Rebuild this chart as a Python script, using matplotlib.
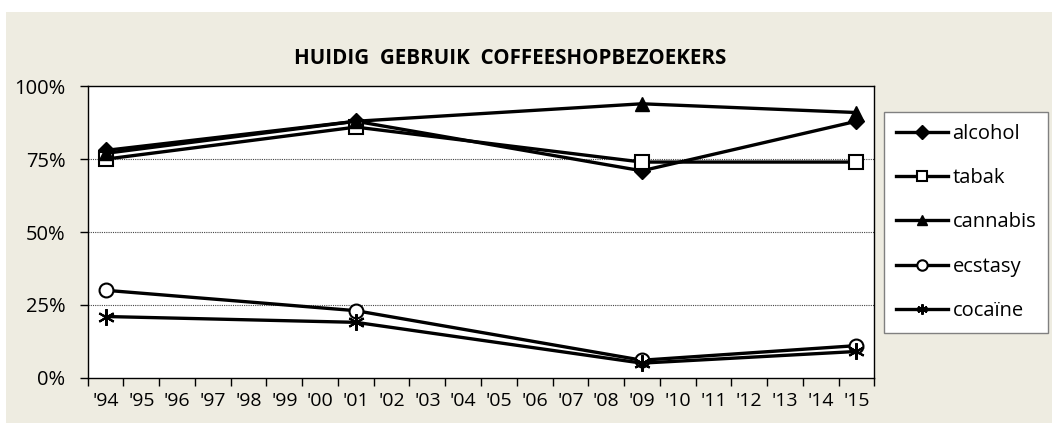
import numpy as np
import matplotlib
matplotlib.use('Agg')
import matplotlib.pyplot as plt
from matplotlib.patches import Rectangle

plt.rcParams['font.family'] = ['Open Sans', 'DejaVu Sans']

# categorie-as: '94 t/m '15
jaren = ["'%02d" % (j % 100) for j in range(1994, 2016)]
meetjaren = [1994, 2001, 2009, 2015]

alcohol = [78, 88, 71, 88]
tabak = [75, 86, 74, 74]
cannabis = [77, 88, 94, 91]
ecstasy = [30, 23, 6, 11]
cocaine = [21, 19, 5, 9]

fig = plt.figure(figsize=(10.52, 4.23), dpi=100, facecolor='white')
fig.patches.append(Rectangle((6 / 1052, 0), 1 - 6 / 1052, 1 - 12 / 423,
                             transform=fig.transFigure, facecolor='#EEECE1',
                             edgecolor='none', zorder=-10))

ax = fig.add_axes([87.7 / 1052, 1 - 377.7 / 423, (874.3 - 87.7) / 1052, (377.7 - 86.3) / 423])
ax.set_facecolor('white')

x = np.array(meetjaren) - 1994
lw = 2.4
ax.plot(x, alcohol, '-', color='black', lw=lw, marker='D', ms=8.5, mfc='black', label='alcohol', zorder=3)
ax.plot(x, tabak, '-', color='black', lw=lw, marker='s', ms=10, mfc='white', mew=1.5, label='tabak', zorder=3)
ax.plot(x, cannabis, '-', color='black', lw=lw, marker='^', ms=10, mfc='black', label='cannabis', zorder=3)
ax.plot(x, ecstasy, '-', color='black', lw=lw, marker='o', ms=10, mfc='white', mew=1.5, label='ecstasy', zorder=3)
ax.plot(x, cocaine, '-', color='black', lw=lw, marker=(6, 2, 0), ms=12, mew=1.5, label='cocaïne', zorder=3)

ax.set_xlim(-0.5, len(jaren) - 0.5)
ax.set_ylim(0, 100)
ax.set_xticks(range(len(jaren)))
ax.set_xticklabels(jaren)
ax.set_xticks(np.arange(-0.5, len(jaren)), minor=True)
ax.tick_params(axis='x', which='major', length=0, pad=10, labelsize=14)
ax.tick_params(axis='x', which='minor', length=6, width=1, direction='out')
ax.set_yticks([0, 25, 50, 75, 100])
ax.set_yticklabels(['0%', '25%', '50%', '75%', '100%'])
ax.tick_params(axis='y', length=6, width=1, pad=10, labelsize=14.5, direction='out')

for g in [25, 50, 75]:
    ax.axhline(g, color='#444444', lw=0.8, ls=(0, (1, 1)), zorder=1)

for s in ax.spines.values():
    s.set_color('black')
    s.set_linewidth(1)

leg = fig.legend(loc='upper left', bbox_to_anchor=(884 / 1052, 1 - 112 / 423),
                 frameon=True, fancybox=False, edgecolor='#808080', facecolor='white',
                 framealpha=1, fontsize=14.5, handlelength=2.6, handletextpad=0.2,
                 labelspacing=1.2, borderpad=0.6, borderaxespad=0)
leg.get_frame().set_linewidth(1)
for h in leg.legend_handles:
    h.set_markersize(7.5)

fig.text(510 / 1052, 1 - 59 / 423, 'HUIDIG  GEBRUIK  COFFEESHOPBEZOEKERS',
         ha='center', va='center', fontsize=14.8, fontweight='bold')

fig.savefig('out.png', dpi=100, facecolor='white')
